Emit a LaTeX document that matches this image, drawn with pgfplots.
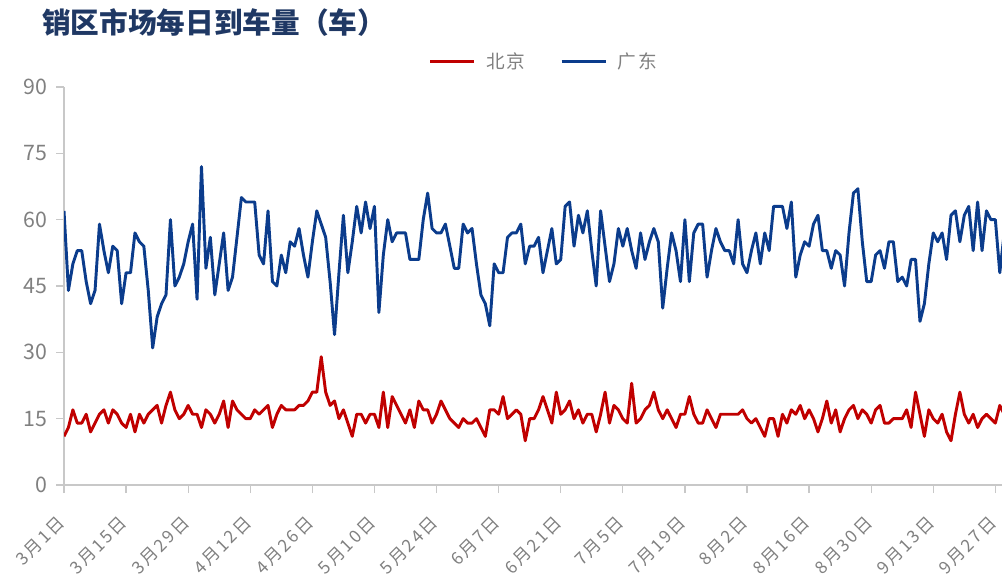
\documentclass[border=0pt]{standalone}
\usepackage{pgfplots}
\pgfplotsset{compat=1.18}
\usepackage{pgfplotstable}
\usepackage{fontspec}
\setmainfont{Noto Sans CJK SC}
\newfontfamily\xlab[LetterSpace=12]{Noto Sans CJK SC}
\newfontfamily\leg[LetterSpace=10]{Noto Sans CJK SC}
\definecolor{bjred}{HTML}{C00000}
\definecolor{gdblue}{HTML}{0B3C8C}
\definecolor{axgray}{HTML}{C8C8C8}
\definecolor{txtgray}{HTML}{808080}
\definecolor{titleblue}{HTML}{1F3864}

\pgfplotstableread[row sep=\\]{
d bj gd\\
0 11 62\\ 1 13 44\\ 2 17 50\\ 3 14 53\\ 4 14 53\\ 5 16 46\\ 6 12 41\\ 7 14 44\\ 8 16 59\\ 9 17 53\\
10 14 48\\ 11 17 54\\ 12 16 53\\ 13 14 41\\ 14 13 48\\ 15 16 48\\ 16 12 57\\ 17 16 55\\ 18 14 54\\ 19 16 44\\
20 17 31\\ 21 18 38\\ 22 14 41\\ 23 18 43\\ 24 21 60\\ 25 17 45\\ 26 15 47\\ 27 16 50\\ 28 18 55\\ 29 16 59\\
30 16 42\\ 31 13 72\\ 32 17 49\\ 33 16 56\\ 34 14 43\\ 35 16 50\\ 36 19 57\\ 37 13 44\\ 38 19 47\\ 39 17 56\\
40 16 65\\ 41 15 64\\ 42 15 64\\ 43 17 64\\ 44 16 52\\ 45 17 50\\ 46 18 62\\ 47 13 46\\ 48 16 45\\ 49 18 52\\
50 17 48\\ 51 17 55\\ 52 17 54\\ 53 18 58\\ 54 18 52\\ 55 19 47\\ 56 21 55\\ 57 21 62\\ 58 29 59\\ 59 21 56\\
60 18 46\\ 61 19 34\\ 62 15 48\\ 63 17 61\\ 64 14 48\\ 65 11 55\\ 66 16 63\\ 67 16 57\\ 68 14 64\\ 69 16 58\\
70 16 63\\ 71 13 39\\ 72 21 52\\ 73 13 60\\ 74 20 55\\ 75 18 57\\ 76 16 57\\ 77 14 57\\ 78 17 51\\ 79 13 51\\
80 19 51\\ 81 17 60\\ 82 17 66\\ 83 14 58\\ 84 16 57\\ 85 19 57\\ 86 17 59\\ 87 15 54\\ 88 14 49\\ 89 13 49\\
90 15 59\\ 91 14 57\\ 92 14 58\\ 93 15 50\\ 94 13 43\\ 95 11 41\\ 96 17 36\\ 97 17 50\\ 98 16 48\\ 99 20 48\\
100 15 56\\ 101 16 57\\ 102 17 57\\ 103 16 59\\ 104 10 50\\ 105 15 54\\ 106 15 54\\ 107 17 56\\ 108 20 48\\ 109 17 53\\
110 14 58\\ 111 21 50\\ 112 16 51\\ 113 17 63\\ 114 19 64\\ 115 15 54\\ 116 17 61\\ 117 14 57\\ 118 16 62\\ 119 16 53\\
120 12 45\\ 121 16 62\\ 122 21 54\\ 123 14 46\\ 124 18 50\\ 125 17 58\\ 126 15 54\\ 127 14 58\\ 128 23 53\\ 129 14 49\\
130 15 57\\ 131 17 51\\ 132 18 55\\ 133 21 58\\ 134 17 55\\ 135 15 40\\ 136 17 49\\ 137 15 57\\ 138 13 53\\ 139 16 46\\
140 16 60\\ 141 20 46\\ 142 16 57\\ 143 14 59\\ 144 14 59\\ 145 17 47\\ 146 15 53\\ 147 13 58\\ 148 16 55\\ 149 16 53\\
150 16 53\\ 151 16 50\\ 152 16 60\\ 153 17 50\\ 154 15 48\\ 155 14 53\\ 156 15 57\\ 157 13 50\\ 158 11 57\\ 159 15 53\\
160 15 63\\ 161 11 63\\ 162 16 63\\ 163 14 58\\ 164 17 64\\ 165 16 47\\ 166 18 52\\ 167 15 55\\ 168 17 54\\ 169 15 59\\
170 12 61\\ 171 15 53\\ 172 19 53\\ 173 14 49\\ 174 17 53\\ 175 12 52\\ 176 15 45\\ 177 17 57\\ 178 18 66\\ 179 15 67\\
180 17 55\\ 181 16 46\\ 182 14 46\\ 183 17 52\\ 184 18 53\\ 185 14 49\\ 186 14 55\\ 187 15 55\\ 188 15 46\\ 189 15 47\\
190 17 45\\ 191 13 51\\ 192 21 51\\ 193 16 37\\ 194 11 41\\ 195 17 50\\ 196 15 57\\ 197 14 55\\ 198 16 57\\ 199 12 51\\
200 10 61\\ 201 16 62\\ 202 21 55\\ 203 16 61\\ 204 14 63\\ 205 16 53\\ 206 13 64\\ 207 15 53\\ 208 16 62\\ 209 15 60\\
210 14 60\\ 211 18 48\\ 212 16 57\\
}\datatable

\begin{document}
\begin{tikzpicture}[x=0.75pt,y=0.75pt]
\path[use as bounding box] (0,0) rectangle (1002,578);
\node[anchor=west, inner sep=0pt, text=titleblue, font=\fontsize{21.5}{24}\selectfont\bfseries] at (42,555) {销区市场每日到车量（车）};
\begin{axis}[
  at={(48pt,69.75pt)}, anchor=south west,
  width=703.5pt, height=298.5pt, scale only axis,
  xmin=0, xmax=211.5, ymin=0, ymax=90,
  ytick={0,15,...,90},
  xtick={0,14,...,210},
  xticklabels={3月1日,3月15日,3月29日,4月12日,4月26日,5月10日,5月24日,6月7日,6月21日,7月5日,7月19日,8月2日,8月16日,8月30日,9月13日,9月27日},
  axis x line*=bottom, axis y line*=left,
  axis line style={axgray, line width=1.3pt},
  tick style={axgray, line width=1pt},
  major tick length=6pt, tick align=outside,
  ticklabel style={text=txtgray},
  yticklabel style={font=\fontsize{16}{16}\selectfont, xshift=-3pt},
  xticklabel style={rotate=45, anchor=north east, xshift=-12pt, yshift=-4pt, font=\xlab\fontsize{13}{13}\selectfont},
  /pgf/number format/assume math mode=true,
  legend style={at={(0.512,1.063)}, anchor=center, draw=none, fill=none,
    font=\leg\fontsize{14}{14}\selectfont, text=txtgray,
    legend columns=2, /tikz/every even column/.append style={column sep=24pt}},
  legend image code/.code={\draw[#1] (0pt,0pt) -- (33pt,0pt);},
]
\addplot[bjred, line width=2.2pt, line join=round] table[x=d, y=bj] {\datatable};
\addlegendentry{\hspace{6pt}北京}
\addplot[gdblue, line width=2.2pt, line join=round] table[x=d, y=gd] {\datatable};
\addlegendentry{\hspace{6pt}广东}
\end{axis}
\end{tikzpicture}
\end{document}
